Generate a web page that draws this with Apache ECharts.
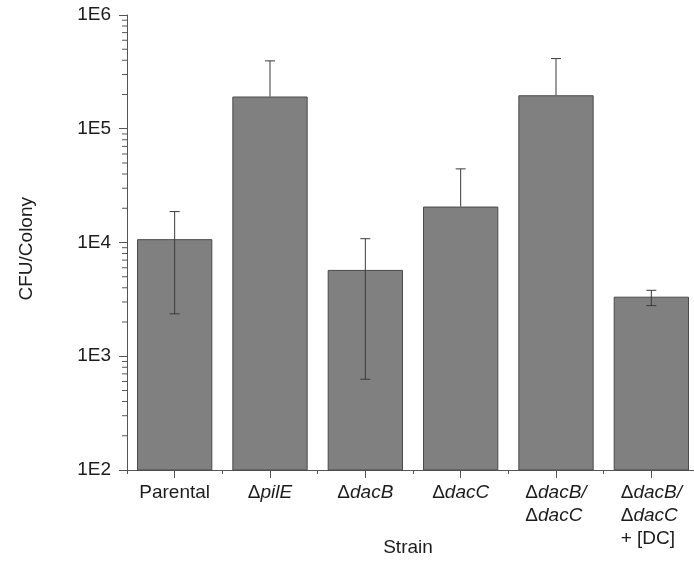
<!DOCTYPE html>
<html>
<head>
<meta charset="utf-8">
<script src="https://cdn.jsdelivr.net/npm/echarts@6/dist/echarts.min.js"></script>
<style>
  html, body { margin: 0; padding: 0; background: #ffffff; }
  #chart { width: 694px; height: 563px; }
</style>
</head>
<body>
<div id="chart"></div>
<script>
// Strains and colony counts (CFU per colony, log scale)
const strains = ['Parental', 'ΔpilE', 'ΔdacB', 'ΔdacC', 'ΔdacB/\nΔdacC', 'ΔdacB/\nΔdacC\n+ [DC]'];
const cfuMean = [10700, 192000, 5740, 20700, 197000, 3340];
const cfuUpper = [18700, 395000, 10800, 44400, 414000, 3800];
const cfuLower = [2360, null, 628, null, null, 2790];   // null: lower whisker falls off the log axis
const yTickLabels = { 2: '1E2', 3: '1E3', 4: '1E4', 5: '1E5', 6: '1E6' };
const minorSteps = [2, 3, 4, 5, 6, 7, 8, 9];
const minorDecades = [100, 1000, 10000, 100000];

const FONT = '"Liberation Sans", Arial, sans-serif';
const TXT = '#1c1c1c';
const AX = '#555555';

// Gene names italic, the delta and other text upright
function richLabel(s) {
  return s.split('\n').map(line =>
    line.replace(/Δ([A-Za-z]+\/?)/g, '{n|Δ}{i|$1}')
        .replace(/^(\+ \[DC\])$/, '{n|$1}')
        .replace(/^Parental$/, '{n|Parental}')
  ).join('\n');
}

const minorTickData = [];
minorDecades.forEach(d => minorSteps.forEach(m => minorTickData.push([0, d * m])));

const errData = strains.map((_, i) => [i, cfuMean[i], cfuUpper[i], cfuLower[i] === null ? cfuMean[i] : cfuLower[i]]);

const chart = echarts.init(document.getElementById('chart'), null, { renderer: 'canvas' });
chart.setOption({
  backgroundColor: '#ffffff',
  animation: false,
  grid: { left: 127, top: 15, width: 572, height: 455, outerBoundsMode: 'none', containLabel: false },
  xAxis: [{
    type: 'category',
    data: strains,
    axisLine: { show: true, lineStyle: { color: AX, width: 1 } },
    axisTick: { show: true, alignWithLabel: true, interval: 0, length: 8, lineStyle: { color: AX } },
    axisLabel: {
      interval: 0,
      hideOverlap: false,
      margin: 11,
      formatter: v => richLabel(v),
      fontFamily: FONT, fontSize: 19, color: TXT, lineHeight: 23,
      rich: {
        n: { fontFamily: FONT, fontSize: 19, color: TXT, lineHeight: 23, fontStyle: 'normal', align: 'left' },
        i: { fontFamily: FONT, fontSize: 19, color: TXT, lineHeight: 23, fontStyle: 'italic', align: 'left' }
      }
    },
    splitLine: { show: false }
  }, {
    // short ticks on category boundaries
    type: 'category',
    gridIndex: 0,
    position: 'bottom',
    data: strains,
    axisLine: { show: false },
    axisTick: { show: true, alignWithLabel: false, interval: 0, length: 4, lineStyle: { color: AX } },
    axisLabel: { show: false },
    splitLine: { show: false }
  }],
  yAxis: {
    type: 'log',
    logBase: 10,
    min: 100,
    max: 1000000,
    axisLine: { show: true, lineStyle: { color: AX, width: 1 } },
    axisTick: { show: true, length: 8, lineStyle: { color: AX } },
    axisLabel: {
      margin: 16,
      fontFamily: FONT, fontSize: 19, color: TXT,
      formatter: v => yTickLabels[Math.round(Math.log10(v))] || ''
    },
    splitLine: { show: false }
  },
  graphic: [{
    type: 'text',
    left: 17,
    top: 197,
    rotation: Math.PI / 2,
    originX: 0, originY: 0,
    style: {
      text: 'CFU/Colony',
      font: '19px "Liberation Sans", Arial, sans-serif',
      fill: TXT
    }
  }, {
    type: 'text',
    x: 408,
    y: 538,
    style: {
      text: 'Strain',
      font: '19px "Liberation Sans", Arial, sans-serif',
      fill: TXT,
      align: 'center',
      verticalAlign: 'top'
    }
  }],
  series: [{
    type: 'bar',
    data: cfuMean,
    barWidth: '79%',
    itemStyle: { color: '#808080', borderColor: '#4a4a4a', borderWidth: 1 },
    silent: true,
    z: 2
  }, {
    type: 'custom',
    data: errData,
    encode: { x: 0, y: 1 },
    silent: true,
    z: 5,
    renderItem(params, api) {
      const i = api.value(0);
      const top = api.coord([i, api.value(2)]);
      const base = api.coord([i, api.value(1)]);
      const low = api.coord([i, api.value(3)]);
      const hw = 5;
      const st = { stroke: '#3a3a3a', lineWidth: 1 };
      const children = [
        { type: 'line', shape: { x1: top[0], y1: top[1], x2: low[0], y2: low[1] }, style: st },
        { type: 'line', shape: { x1: top[0] - hw, y1: top[1], x2: top[0] + hw, y2: top[1] }, style: st }
      ];
      if (Math.abs(low[1] - base[1]) > 0.5) {
        children.push({ type: 'line', shape: { x1: low[0] - hw, y1: low[1], x2: low[0] + hw, y2: low[1] }, style: st });
      }
      return { type: 'group', children };
    }
  }, {
    // minor log ticks on the value axis
    type: 'custom',
    data: minorTickData,
    encode: { x: 0, y: 1 },
    silent: true,
    clip: false,
    z: 6,
    renderItem(params, api) {
      const p = api.coord([0, api.value(1)]);
      const x0 = params.coordSys.x;
      return {
        type: 'line',
        shape: { x1: x0 - 5, y1: p[1], x2: x0, y2: p[1] },
        style: { stroke: AX, lineWidth: 1 }
      };
    }
  }]
});
</script>
</body>
</html>
